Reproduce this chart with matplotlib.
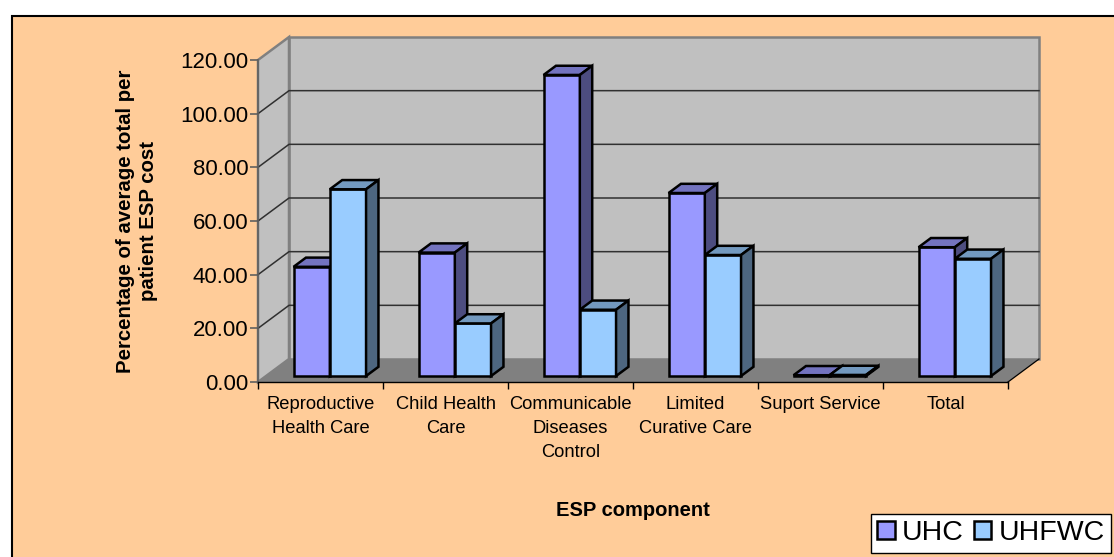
import matplotlib
matplotlib.use("Agg")
import matplotlib.pyplot as plt
from matplotlib.patches import Polygon, Rectangle, Patch

plt.rcParams['font.family'] = ['Liberation Sans', 'DejaVu Sans']

# data
categories = ["Reproductive\nHealth Care", "Child Health\nCare", "Communicable\nDiseases\nControl",
              "Limited\nCurative Care", "Suport Service", "Total"]
series_names = ["UHC", "UHFWC"]
uhc = [40.7, 46.0, 112.2, 68.2, 0.3, 48.0]
uhfwc = [69.6, 19.6, 24.7, 45.1, 0.4, 43.7]
yticks = [0, 20, 40, 60, 80, 100, 120]

# colours: front, top, side for each series
front_cols = ["#9999FF", "#99CCFF"]
top_cols = ["#7373BF", "#7399BF"]
side_cols = ["#4D4D80", "#4D6680"]

W, H, DPI = 1114, 557, 100
fig = plt.figure(figsize=(W / DPI, H / DPI), dpi=DPI, facecolor="white")

# chart area (peach box with black border on left / top)
fig.add_artist(Rectangle((12 / W, -0.05), 1.2, 1 - 16 / H + 0.05, transform=fig.transFigure,
                         facecolor="#FFCC99", edgecolor="black", lw=1.5, zorder=-10))

# front plane of the plot: x 258..1008 px, y 382..60 px
ax = fig.add_axes([258 / W, 1 - 382 / H, 750 / W, 322 / H])
ax.set_facecolor("none")
ax.set_xlim(0, len(categories))
ax.set_ylim(0, 120)

# depth offsets (full depth) in data units
DX = 31 / 125
DY = 23 / (322 / 120)


def P(x, v, d):
    return (x + d * DX, v + d * DY)


def poly(pts, fc, ec, lw, z):
    ax.add_patch(Polygon(pts, closed=True, facecolor=fc, edgecolor=ec, lw=lw,
                         zorder=z, clip_on=False, joinstyle="miter"))


n = len(categories)
# walls and floor
poly([P(0, 0, 1), P(n, 0, 1), P(n, 120, 1), P(0, 120, 1)], "#C0C0C0", "#808080", 1.8, 1)
poly([P(0, 0, 0), P(0, 0, 1), P(0, 120, 1), P(0, 120, 0)], "#C0C0C0", "#808080", 1.8, 1)
poly([P(0, 0, 0), P(n, 0, 0), P(n, 0, 1), P(0, 0, 1)], "#808080", "none", 0, 1.5)
for v in yticks[1:-1]:
    xs, ys = zip(P(0, v, 0), P(0, v, 1), P(n, v, 1))
    ax.plot(xs, ys, color="#303030", lw=1.1, zorder=2, clip_on=False)
xs, ys = zip(P(n, 0, 0), P(n, 0, 1))
ax.plot(xs, ys, color="black", lw=0.9, zorder=2, clip_on=False)

# bars
BW = 0.29
D0, D1 = 0.26, 0.66
z = 3
for i in range(n):
    for j, vals in enumerate([uhc, uhfwc]):
        v = vals[i]
        x0 = i + 0.22 + j * BW
        x1 = x0 + BW
        poly([P(x0, 0, D0), P(x1, 0, D0), P(x1, v, D0), P(x0, v, D0)], front_cols[j], "black", 1.8, z)
        poly([P(x0, v, D0), P(x1, v, D0), P(x1, v, D1), P(x0, v, D1)], top_cols[j], "black", 1.8, z)
        poly([P(x1, 0, D0), P(x1, 0, D1), P(x1, v, D1), P(x1, v, D0)], side_cols[j], "black", 1.8, z)
        z += 1

# axes
for s in ["top", "right"]:
    ax.spines[s].set_visible(False)
ax.spines["left"].set_color("#606060")
ax.spines["left"].set_linewidth(1.2)
ax.spines["left"].set_zorder(2.5)
ax.spines["bottom"].set_color("black")
ax.spines["bottom"].set_linewidth(1.0)
ax.spines["bottom"].set_zorder(2.5)

ax.set_yticks(yticks)
ax.set_yticklabels([f"{t:.2f}" for t in yticks])
ax.tick_params(axis="y", length=6, width=1.2, color="#606060", pad=1, labelsize=16)

ax.set_xticks(range(n + 1))
ax.set_xticklabels([])
ax.set_xticks([i + 0.5 for i in range(n)], minor=True)
ax.set_xticklabels(categories, minor=True, fontsize=13.2, linespacing=1.55)
ax.tick_params(axis="x", which="major", length=5, width=1.0, color="black")
ax.tick_params(axis="x", which="minor", length=0, pad=10)

# titles
fig.text(633 / W, 1 - 511 / H, "ESP component", ha="center", va="center",
         fontsize=14.5, fontweight="bold")
fig.text(137 / W, 1 - 221 / H, "Percentage of average total per\npatient ESP cost",
         ha="center", va="center", rotation=90, fontsize=14.7, fontweight="bold",
         multialignment="center", linespacing=1.3)

# legend
handles = [Patch(facecolor=front_cols[k], edgecolor="black", lw=1.8) for k in range(2)]
leg = fig.legend(handles, series_names, loc="upper right", bbox_to_anchor=(1111 / W, 1 - 514 / H),
                 ncol=2, fontsize=20.5, frameon=True, fancybox=False, framealpha=1,
                 handlelength=0.62, handleheight=0.62, handletextpad=0.25, columnspacing=0.35,
                 borderpad=0.22, borderaxespad=0)
leg.get_frame().set_edgecolor("black")
leg.get_frame().set_linewidth(1.0)
leg.get_frame().set_facecolor("white")

fig.savefig("out.png", dpi=DPI, facecolor="white")
